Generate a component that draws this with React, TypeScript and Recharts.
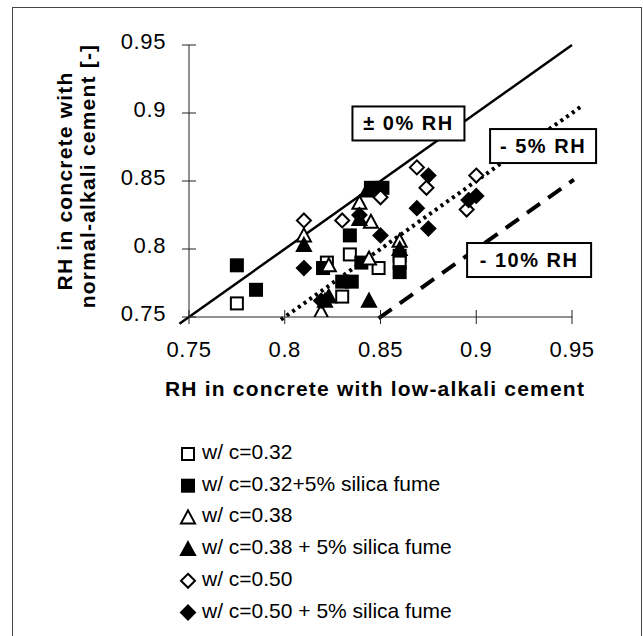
import React from "react";
import {
  ReferenceDot,
  ReferenceLine,
  Scatter,
  ScatterChart,
  XAxis,
  YAxis,
} from "recharts";

// axis ticks
const xTicks = [0.75, 0.8, 0.85, 0.9, 0.95];
const yTicks = [0.75, 0.8, 0.85, 0.9, 0.95];

// w/c = 0.32
const wc032 = [
  { x: 0.775, y: 0.76 },
  { x: 0.822, y: 0.79 },
  { x: 0.834, y: 0.796 },
  { x: 0.849, y: 0.786 },
  { x: 0.83, y: 0.765 },
  { x: 0.86, y: 0.795 },
  { x: 0.86, y: 0.79 },
];

// w/c = 0.32 + 5% silica fume
const wc032sf = [
  { x: 0.775, y: 0.788 },
  { x: 0.785, y: 0.77 },
  { x: 0.82, y: 0.786 },
  { x: 0.834, y: 0.81 },
  { x: 0.84, y: 0.79 },
  { x: 0.83, y: 0.776 },
  { x: 0.835, y: 0.776 },
  { x: 0.845, y: 0.845 },
  { x: 0.851, y: 0.845 },
  { x: 0.86, y: 0.783 },
];

// w/c = 0.38
const wc038 = [
  { x: 0.81, y: 0.81 },
  { x: 0.823, y: 0.788 },
  { x: 0.839, y: 0.834 },
  { x: 0.845, y: 0.82 },
  { x: 0.844, y: 0.793 },
  { x: 0.819, y: 0.754 },
  { x: 0.86, y: 0.806 },
];

// w/c = 0.38 + 5% silica fume
const wc038sf = [
  { x: 0.81, y: 0.803 },
  { x: 0.821, y: 0.762 },
  { x: 0.823, y: 0.765 },
  { x: 0.839, y: 0.822 },
  { x: 0.844, y: 0.762 },
  { x: 0.86, y: 0.8 },
  { x: 0.843, y: 0.843 },
];

// w/c = 0.50
const wc050 = [
  { x: 0.81, y: 0.821 },
  { x: 0.83, y: 0.821 },
  { x: 0.85, y: 0.838 },
  { x: 0.869, y: 0.86 },
  { x: 0.874, y: 0.845 },
  { x: 0.9, y: 0.854 },
  { x: 0.895, y: 0.829 },
];

// w/c = 0.50 + 5% silica fume
const wc050sf = [
  { x: 0.81, y: 0.786 },
  { x: 0.85, y: 0.81 },
  { x: 0.875, y: 0.854 },
  { x: 0.869, y: 0.83 },
  { x: 0.875, y: 0.815 },
  { x: 0.896, y: 0.836 },
  { x: 0.9, y: 0.839 },
  { x: 0.839, y: 0.825 },
  { x: 0.819, y: 0.762 },
];

// reference lines (low-alkali RH, normal-alkali RH)
const lineZero = [
  { x: 0.745, y: 0.745 },
  { x: 0.95, y: 0.95 },
];
const lineMinus5 = [
  { x: 0.798, y: 0.748 },
  { x: 0.955, y: 0.905 },
];
const lineMinus10 = [
  { x: 0.849, y: 0.749 },
  { x: 0.951, y: 0.851 },
];

// boxed line labels
const boxTexts = ["± 0% RH", "- 5% RH", "- 10% RH"];
const boxX = [0.8646, 0.9349, 0.9276];
const boxY = [0.8923, 0.8757, 0.7919];

const FONT = "'Liberation Sans', Arial, sans-serif";

type Kind = "square" | "triangle" | "diamond";

function Marker({ cx, cy, kind, filled }: { cx: number; cy: number; kind: Kind; filled: boolean }) {
  const fill = filled ? "#000" : "#fff";
  if (kind === "square") {
    return (
      <rect x={cx - 6} y={cy - 6} width={12} height={12} fill={fill} stroke="#000" strokeWidth={2} />
    );
  }
  if (kind === "triangle") {
    return (
      <polygon
        points={`${cx},${cy - 7} ${cx + 7},${cy + 6} ${cx - 7},${cy + 6}`}
        fill={fill}
        stroke="#000"
        strokeWidth={2}
      />
    );
  }
  return (
    <polygon
      points={`${cx},${cy - 7} ${cx + 7},${cy} ${cx},${cy + 7} ${cx - 7},${cy}`}
      fill={fill}
      stroke="#000"
      strokeWidth={2}
    />
  );
}

const series: { name: string; data: { x: number; y: number }[]; kind: Kind; filled: boolean }[] = [
  { name: "w/ c=0.32", data: wc032, kind: "square", filled: false },
  { name: "w/ c=0.32+5% silica fume", data: wc032sf, kind: "square", filled: true },
  { name: "w/ c=0.38", data: wc038, kind: "triangle", filled: false },
  { name: "w/ c=0.38 + 5% silica fume", data: wc038sf, kind: "triangle", filled: true },
  { name: "w/ c=0.50", data: wc050, kind: "diamond", filled: false },
  { name: "w/ c=0.50 + 5% silica fume", data: wc050sf, kind: "diamond", filled: true },
];

const XTick = ({ x, y, payload }: any) => (
  <g>
    <line x1={x} y1={y - 7} x2={x} y2={y + 7} stroke="#222" strokeWidth={1} />
    <text
      x={x}
      y={y + 24}
      dy="0.71em"
      textAnchor="middle"
      fontSize={22}
      letterSpacing={0.6}
      fontFamily={FONT}
      fill="#000"
    >
      {String(payload.value)}
    </text>
  </g>
);

const YTick = ({ x, y, payload }: any) => (
  <g>
    <line x1={x - 7} y1={y} x2={x + 7} y2={y} stroke="#222" strokeWidth={1} />
    <text
      x={x - 23}
      y={y - 4}
      dy="0.355em"
      textAnchor="end"
      fontSize={22}
      letterSpacing={0.6}
      fontFamily={FONT}
      fill="#000"
    >
      {String(payload.value)}
    </text>
  </g>
);

const BoxLabel = (text: string, w: number) => (props: any) => {
  const { cx, cy } = props;
  return (
    <g>
      <rect x={cx - w / 2} y={cy - 17} width={w} height={34} fill="#fff" stroke="#000" strokeWidth={2} />
      <text
        x={cx}
        y={cy + 7}
        textAnchor="middle"
        fontSize={20}
        fontWeight="bold"
        letterSpacing={1.5}
        fontFamily={FONT}
        fill="#000"
      >
        {text}
      </text>
    </g>
  );
};

const boxWidths = [112, 106, 124];

export default function App() {
  return (
    <div
      style={{
        position: "absolute",
        left: 0,
        top: 0,
        width: 643,
        height: 636,
        background: "#fff",
        overflow: "hidden",
      }}
    >
      <div
        style={{
          position: "absolute",
          left: 12,
          top: 7,
          width: 628,
          height: 640,
          border: "1px solid #444",
        }}
      />
      <div style={{ position: "absolute", left: 0, top: 0 }}>
        <ScatterChart width={643} height={636} margin={{ top: 45, right: 71, bottom: 289, left: 129 }}>
          <XAxis
            dataKey="x"
            type="number"
            domain={[0.75, 0.95]}
            ticks={xTicks}
            allowDataOverflow
            height={30}
            tickSize={0}
            tickMargin={0}
            tickLine={false}
            tick={<XTick />}
            axisLine={{ stroke: "#222", strokeWidth: 1 }}
          />
          <YAxis
            dataKey="y"
            type="number"
            domain={[0.75, 0.95]}
            ticks={yTicks}
            allowDataOverflow
            width={60}
            tickSize={0}
            tickMargin={0}
            tickLine={false}
            tick={<YTick />}
            axisLine={{ stroke: "#222", strokeWidth: 1 }}
          />
          <ReferenceLine segment={lineZero} stroke="#000" strokeWidth={2.5} ifOverflow="visible" />
          <ReferenceLine
            segment={lineMinus5}
            stroke="#000"
            strokeWidth={4}
            strokeDasharray="3 4"
            ifOverflow="visible"
          />
          <ReferenceLine
            segment={lineMinus10}
            stroke="#000"
            strokeWidth={4}
            strokeDasharray="16 10"
            ifOverflow="visible"
          />
          {series.map((s) => (
            <Scatter
              key={s.name}
              name={s.name}
              data={s.data}
              isAnimationActive={false}
              shape={(p: any) => <Marker cx={p.cx} cy={p.cy} kind={s.kind} filled={s.filled} />}
            />
          ))}
          {boxTexts.map((t, i) => (
            <ReferenceDot
              key={t}
              x={boxX[i]}
              y={boxY[i]}
              r={1}
              ifOverflow="visible"
              shape={BoxLabel(t, boxWidths[i])}
            />
          ))}
        </ScatterChart>
      </div>
      <svg
        width={643}
        height={636}
        style={{ position: "absolute", left: 0, top: 0, pointerEvents: "none" }}
      >
        <text
          x={375}
          y={396}
          textAnchor="middle"
          fontSize={21}
          fontWeight="bold"
          letterSpacing={1.2}
          fontFamily={FONT}
        >
          RH in concrete with low-alkali cement
        </text>
        <text
          x={72}
          y={181}
          transform="rotate(-90, 72, 181)"
          textAnchor="middle"
          fontSize={21}
          fontWeight="bold"
          letterSpacing={1.2}
          fontFamily={FONT}
        >
          RH in concrete with
        </text>
        <text
          x={95}
          y={176}
          transform="rotate(-90, 95, 176)"
          textAnchor="middle"
          fontSize={21}
          fontWeight="bold"
          letterSpacing={1.2}
          fontFamily={FONT}
        >
          normal-alkali cement [-]
        </text>
        {series.map((s, i) => {
          const cy = 452 + 31.7 * i;
          return (
            <g key={s.name}>
              <Marker cx={188} cy={cy + 2} kind={s.kind} filled={s.filled} />
              <text x={202} y={cy + 7} fontSize={21} fontFamily={FONT} fill="#000">
                {s.name}
              </text>
            </g>
          );
        })}
      </svg>
    </div>
  );
}
